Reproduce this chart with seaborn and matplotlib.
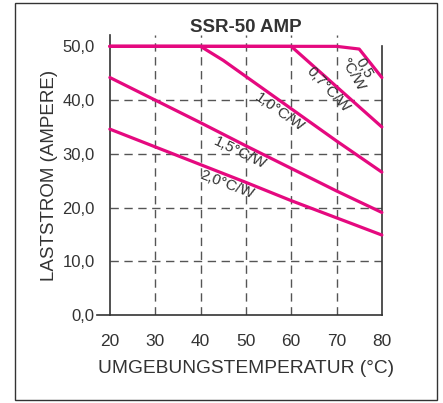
import matplotlib
matplotlib.use("Agg")
import matplotlib.pyplot as plt
import seaborn as sns
import pandas as pd
from matplotlib.patches import Rectangle

# Derating curves per thermal resistance (°C/W)
temp_05 = [20, 70, 75, 80]
amp_05 = [50.0, 50.0, 49.5, 44.2]
temp_07 = [20, 60, 80]
amp_07 = [50.0, 50.0, 35.0]
temp_10 = [20, 40, 45, 50, 60, 70, 80]
amp_10 = [50.0, 50.0, 47.4, 44.4, 38.4, 32.4, 26.6]
temp_15 = [20, 30, 40, 50, 60, 70, 80]
amp_15 = [44.2, 40.0, 35.8, 31.5, 27.3, 23.1, 19.1]
temp_20 = [20, 30, 40, 50, 60, 70, 80]
amp_20 = [34.6, 31.3, 28.0, 24.7, 21.3, 18.1, 14.9]

series = [
    ("0,5", temp_05, amp_05),
    ("0,7", temp_07, amp_07),
    ("1,0", temp_10, amp_10),
    ("1,5", temp_15, amp_15),
    ("2,0", temp_20, amp_20),
]

x_ticks = [20, 30, 40, 50, 60, 70, 80]
y_ticks = [0, 10, 20, 30, 40, 50]
y_tick_labels = ["0,0", "10,0", "20,0", "30,0", "40,0", "50,0"]

rows = []
for name, xs, ys in series:
    for x, y in zip(xs, ys):
        rows.append({"rth": name, "temp": x, "amp": y})
df = pd.DataFrame(rows)

sns.set_style("white")
plt.rcParams["font.family"] = ["Liberation Sans", "DejaVu Sans"]

magenta = "#e5097f"
dark = "#333333"

fig = plt.figure(figsize=(4.43, 4.03), dpi=100)
ax = fig.add_axes([0.248, 0.218, 0.614, 0.695])

ax.set_xlim(20, 80)
ax.set_ylim(0, 52.1)

# dashed grid (only interior lines)
for gx in [30, 40, 50, 60, 70]:
    ax.axvline(gx, color="#555555", lw=1.0, ls=(0, (6, 4)), zorder=1)
for gy in [10, 20, 30, 40]:
    ax.axhline(gy, color="#555555", lw=1.0, ls=(0, (6, 4)), zorder=1)

for name, _, _ in series:
    sub = df[df["rth"] == name]
    sns.lineplot(data=sub, x="temp", y="amp", ax=ax, color=magenta,
                 lw=2.3, zorder=3, sort=False, estimator=None, clip_on=False)

# curve labels
lab_kw = dict(fontsize=11, color=dark, ha="center", va="center", zorder=4)
ax.text(74.8, 45.4, "0,5\n°C/W", rotation=-60, linespacing=0.85, **lab_kw)
ax.text(68.1, 41.9, "0,7°C/W", rotation=-47, **lab_kw)
ax.text(57.5, 37.8, "1,0°C/W", rotation=-35, **lab_kw)
ax.text(48.7, 30.1, "1,5°C/W", rotation=-26, **lab_kw)
ax.text(45.8, 24.2, "2,0°C/W", rotation=-21, **lab_kw)

ax.set_xticks(x_ticks)
ax.set_xticklabels([str(t) for t in x_ticks])
ax.set_yticks(y_ticks)
ax.set_yticklabels(y_tick_labels)
ax.tick_params(axis="y", direction="out", length=10, width=1.0, color=dark,
               labelsize=12, labelcolor=dark, pad=1)
ax.tick_params(axis="x", direction="out", length=8.5, width=1.0, color=dark,
               labelsize=12.5, labelcolor=dark, pad=5)

for side in ["left", "bottom", "right"]:
    ax.spines[side].set_color(dark)
    ax.spines[side].set_linewidth(1.2)
ax.spines["top"].set_visible(False)
ax.spines["right"].set_bounds(0, 50)
ax.spines["bottom"].set_bounds(17.1, 80)

ax.set_xlabel("UMGEBUNGSTEMPERATUR (°C)", fontsize=13.8, color=dark, labelpad=8)
ax.set_ylabel("LASTSTROM (AMPERE)", fontsize=13.5, color=dark, labelpad=3)
ax.set_title("SSR-50 AMP", fontsize=13.5, fontweight="bold", color=dark, pad=2)

# outer frame
fig.patches.append(Rectangle((15 / 443, 3 / 403), 422 / 443, 397 / 403,
                             transform=fig.transFigure, fill=False,
                             edgecolor=dark, lw=1.0))

fig.savefig("out.png", dpi=100)
